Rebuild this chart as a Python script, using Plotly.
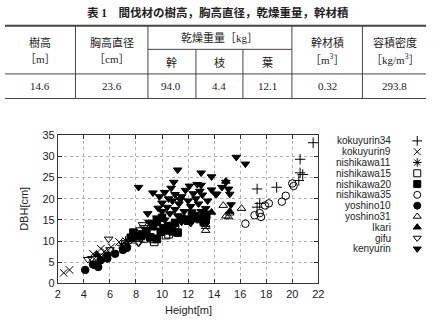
import plotly.graph_objects as go

W, H = 435, 329

# ---------------- table data ----------------
table_title = "<b>表 1　間伐材の樹高，胸高直径，乾燥重量，幹材積</b>"
col_headers = ["樹高", "胸高直径", "乾燥重量［kg］", "幹材積", "容積密度"]
col_units = ["［m］", "［cm］", "", "［m<sup>3</sup>］", "［kg/m<sup>3</sup>］"]
sub_headers = ["幹", "枝", "葉"]
row_values = ["14.6", "23.6", "94.0", "4.4", "12.1", "0.32", "293.8"]

# ---------------- scatter data ----------------
series_names = ["kokuyurin34", "kokuyurin9", "nishikawa11", "nishikawa15", "nishikawa20",
                "nishikawa35", "yoshino10", "yoshino31", "Ikari", "gifu", "kenyurin"]
series_symbols = ["cross-thin-open", "x-thin-open", "asterisk-open", "square-open", "square",
                  "circle-open", "circle", "triangle-up-open", "triangle-up",
                  "triangle-down-open", "triangle-down"]

kokuyurin34_x = [21.6, 20.6, 20.6, 20.8, 20.5, 18.8, 17.3, 17.5, 17.3]
kokuyurin34_y = [33.2, 29.3, 26.1, 25.7, 24.3, 22.7, 22.3, 18.9, 18.0]
kokuyurin9_x = [2.45, 2.9, 4.7, 5.3, 6.1, 6.7, 7.2, 7.6, 4.9, 5.6]
kokuyurin9_y = [2.5, 3.2, 7.0, 8.2, 8.6, 9.8, 9.3, 10.2, 5.5, 7.6]
nishikawa11_x = [6.9, 7.2, 7.4, 7.0]
nishikawa11_y = [9.0, 10.1, 9.5, 8.6]
nishikawa15_x = [10.4, 10.5, 9.3, 10.3, 9.4, 8.6, 11.0]
nishikawa15_y = [12.5, 11.6, 10.5, 11.4, 9.8, 10.6, 12.8]
nishikawa20_x = [7.8, 8.8, 9.1, 9.6, 10.4, 11.2, 10.8, 9.3, 12.6, 13.35, 12.9, 11.5, 10.0,
                 9.6, 11.0, 12.0, 13.2, 13.4, 12.3, 10.5, 9.9, 8.4, 7.6]
nishikawa20_y = [12.0, 11.6, 10.9, 10.5, 12.7, 12.0, 12.3, 13.5, 15.5, 15.0, 15.2, 15.3, 15.5,
                 14.8, 14.3, 14.8, 14.5, 16.2, 16.5, 13.5, 12.2, 11.2, 10.8]
nishikawa35_x = [16.4, 17.1, 17.5, 17.6, 17.9, 18.2, 19.2, 19.5, 20.0, 20.1]
nishikawa35_y = [14.1, 16.1, 16.6, 15.7, 18.4, 18.9, 19.3, 20.7, 23.6, 23.0]
yoshino10_x = [4.1, 4.7, 5.1, 5.3, 5.8, 5.8, 6.4, 7.0, 7.3, 4.9]
yoshino10_y = [3.2, 4.5, 3.9, 5.5, 5.9, 6.6, 7.0, 7.9, 8.4, 4.3]
yoshino31_x = [13.35, 13.35, 14.7, 16.1, 15.2, 15.1, 13.35, 14.9]
yoshino31_y = [12.5, 13.4, 18.4, 17.7, 16.6, 15.7, 13.9, 15.9]
ikari_x = [14.9, 15.2, 7.6, 8.1, 5.0, 13.8]
ikari_y = [24.1, 17.0, 10.5, 11.2, 6.8, 16.8]
gifu_x = [8.5, 8.6, 8.3, 8.2, 8.2, 5.9, 4.6, 4.3, 5.2, 6.0, 7.5, 7.1]
gifu_y = [13.9, 13.2, 12.7, 9.8, 9.5, 10.5, 5.9, 5.7, 6.5, 8.0, 10.0, 9.0]
kenyurin_x = [8.2, 9.3, 11.2, 13.0, 13.8, 15.7, 16.4, 10.9, 12.1, 12.7, 14.1, 14.9, 14.6, 15.1,
              14.2, 15.2, 15.3, 13.35, 13.0, 13.1, 13.8,
              9.8, 10.2, 10.5, 10.0, 10.8, 11.0, 11.5, 11.8, 12.0, 12.4, 12.6, 10.4, 11.0, 11.3,
              11.7, 12.2, 12.8, 10.0, 10.6, 11.2, 11.9, 12.5, 13.2, 9.6, 10.2, 9.0, 9.4, 8.5,
              8.0, 8.8, 10.0, 10.6, 11.5, 12.2, 13.0, 13.5, 11.4, 10.7, 12.9, 9.7, 8.9]
kenyurin_y = [22.7, 21.4, 26.8, 26.1, 25.2, 29.8, 28.2, 23.9, 23.0, 23.4, 21.1, 23.9, 22.7, 22.3,
              21.1, 21.1, 18.6, 17.7, 23.2, 20.9, 22.1,
              20.5, 21.5, 20.0, 19.0, 19.5, 21.0, 20.5, 22.0, 19.5, 21.2, 20.0, 18.0, 17.5, 18.8,
              17.0, 18.2, 18.8, 17.0, 16.5, 16.0, 15.5, 16.3, 15.8, 15.5, 15.0, 14.5, 13.5, 12.0,
              11.0, 12.8, 13.5, 14.0, 14.5, 14.2, 17.0, 19.5, 19.8, 22.5, 21.8, 17.8, 16.5]

series_x = [kokuyurin34_x, kokuyurin9_x, nishikawa11_x, nishikawa15_x, nishikawa20_x,
            nishikawa35_x, yoshino10_x, yoshino31_x, ikari_x, gifu_x, kenyurin_x]
series_y = [kokuyurin34_y, kokuyurin9_y, nishikawa11_y, nishikawa15_y, nishikawa20_y,
            nishikawa35_y, yoshino10_y, yoshino31_y, ikari_y, gifu_y, kenyurin_y]

x_ticks = list(range(2, 23, 2))
y_ticks = list(range(0, 36, 5))

# ---------------- layout helpers (pixel -> paper) ----------------
def px(x):
    return x / W

def py(y):
    return 1 - y / H

PLOT_L, PLOT_R, PLOT_T, PLOT_B = 56, 322, 134, 288
ROW0, ROW_STEP = 140, 11.2

fig = go.Figure()

for name, sym, xs, ys in zip(series_names, series_symbols, series_x, series_y):
    fig.add_trace(go.Scatter(
        x=xs, y=ys, mode="markers", name=name, showlegend=False,
        marker=dict(symbol=sym, size=7.5, color="black",
                    line=dict(color="black", width=1)),
        xaxis="x", yaxis="y"))

# custom gnuplot-style key: markers on a small helper axis
fig.add_trace(go.Scatter(
    x=[0.5] * len(series_names), y=list(range(len(series_names))), mode="markers",
    showlegend=False, hoverinfo="skip",
    marker=dict(symbol=series_symbols, size=7, color="black",
                line=dict(color="black", width=1)),
    xaxis="x2", yaxis="y2"))

axis_font = dict(family="Liberation Sans, Arial, sans-serif", size=11, color="#222")
fig.update_layout(
    width=W, height=H,
    margin=dict(l=0, r=0, t=0, b=0),
    paper_bgcolor="white", plot_bgcolor="white",
    xaxis=dict(domain=[px(PLOT_L), px(PLOT_R)], range=[2, 22], tickvals=x_ticks,
               showgrid=True, gridcolor="#b0b0b0", griddash="dot", gridwidth=1,
               showline=True, linecolor="#333", linewidth=1, mirror="ticks",
               ticks="inside", ticklen=4, tickcolor="#333", zeroline=False,
               tickfont=axis_font, anchor="y"),
    yaxis=dict(domain=[py(PLOT_B), py(PLOT_T)], range=[0, 35], tickvals=y_ticks,
               showgrid=True, gridcolor="#b0b0b0", griddash="dot", gridwidth=1,
               showline=True, linecolor="#333", linewidth=1, mirror="ticks",
               ticks="inside", ticklen=4, tickcolor="#333", zeroline=False,
               tickfont=axis_font, anchor="x"),
    xaxis2=dict(domain=[px(413), px(433)], range=[0, 1], visible=False, anchor="y2"),
    yaxis2=dict(domain=[py(ROW0 + 10.5 * ROW_STEP), py(ROW0 - 0.5 * ROW_STEP)],
                range=[10.5, -0.5], visible=False, anchor="x2"),
)

annotations = []
shapes = []

# key labels
for i, name in enumerate(series_names):
    annotations.append(dict(x=px(397), y=py(ROW0 + i * ROW_STEP), xref="paper", yref="paper",
                            text=name, showarrow=False, xanchor="right", yanchor="middle",
                            borderpad=0,
                            font=dict(family="Liberation Sans, Arial, sans-serif", size=10,
                                      color="#222")))

# axis titles
annotations.append(dict(x=px(189), y=py(316), xref="paper", yref="paper", text="Height[m]",
                        showarrow=False, xanchor="center", yanchor="middle", font=axis_font))
annotations.append(dict(x=px(22), y=py(211), xref="paper", yref="paper", text="DBH[cm]",
                        showarrow=False, xanchor="center", yanchor="middle", textangle=-90,
                        font=axis_font))

# ---------------- table ----------------
tfont = dict(family="Liberation Serif, Noto Sans CJK JP, serif", size=11, color="#222")
annotations.append(dict(x=px(220), y=py(7), xref="paper", yref="paper", text=table_title,
                        showarrow=False, xanchor="center", yanchor="middle",
                        font=dict(family="Liberation Serif, Noto Sans CJK JP, serif", size=11.5,
                                  color="#222")))

TL, TR = 2, 432
line_col = "#444"
def hline(y, x0, x1, w=1):
    shapes.append(dict(type="line", xref="paper", yref="paper", x0=px(x0), x1=px(x1),
                       y0=py(y), y1=py(y), line=dict(color=line_col, width=w)))
def vline(x, y0, y1, w=1):
    shapes.append(dict(type="line", xref="paper", yref="paper", x0=px(x), x1=px(x),
                       y0=py(y0), y1=py(y1), line=dict(color=line_col, width=w)))

hline(20.5, TL, TR, 2)
hline(70.5, TL, TR, 1)
hline(96, TL, TR, 1)
hline(45, 148, 295, 1)
for xv in [74, 148, 295, 367]:
    vline(xv, 21, 96)
for xv in [197, 245]:
    vline(xv, 45, 96)

main_centers = [38, 111, 221, 331, 400]
for c, hdr, unit in zip(main_centers, col_headers, col_units):
    if unit:
        annotations.append(dict(x=px(c), y=py(38), xref="paper", yref="paper", text=hdr,
                                showarrow=False, xanchor="center", yanchor="middle", font=tfont))
        annotations.append(dict(x=px(c), y=py(55), xref="paper", yref="paper", text=unit,
                                showarrow=False, xanchor="center", yanchor="middle", font=tfont))
    else:
        annotations.append(dict(x=px(c), y=py(33), xref="paper", yref="paper", text=hdr,
                                showarrow=False, xanchor="center", yanchor="middle", font=tfont))

sub_centers = [172, 221, 270]
for c, s in zip(sub_centers, sub_headers):
    annotations.append(dict(x=px(c), y=py(59), xref="paper", yref="paper", text=s,
                            showarrow=False, xanchor="center", yanchor="middle", font=tfont))

value_centers = [38, 111, 172, 221, 270, 331, 400]
for c, v in zip(value_centers, row_values):
    annotations.append(dict(x=px(c), y=py(83), xref="paper", yref="paper", text=v,
                            showarrow=False, xanchor="center", yanchor="middle", font=tfont))

fig.update_layout(annotations=annotations, shapes=shapes)
fig.write_html("out.html")
